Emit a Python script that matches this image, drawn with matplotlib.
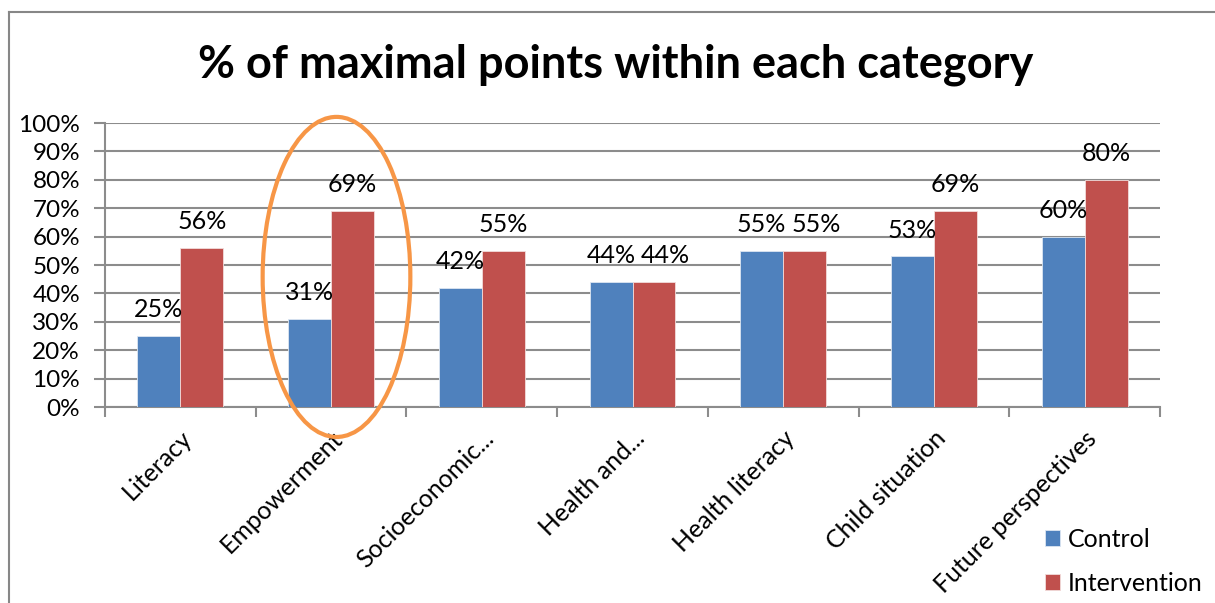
import matplotlib
matplotlib.use("Agg")
from matplotlib import pyplot as plt
from matplotlib.patches import Ellipse
from matplotlib.ticker import PercentFormatter, FixedLocator
import numpy as np

categories = ["Literacy", "Empowerment", "Socioeconomic...", "Health and...",
              "Health literacy", "Child situation", "Future perspectives"]
control = [25, 31, 42, 44, 55, 53, 60]
intervention = [56, 69, 55, 44, 55, 69, 80]
yticks = [0, 10, 20, 30, 40, 50, 60, 70, 80, 90, 100]

plt.rcParams['font.family'] = ['Lato', 'DejaVu Sans']
fs = 18

fig = plt.figure(figsize=(12.15, 6.03), dpi=100)
ax = fig.add_axes([105 / 1215, 1 - 407 / 603, (1160 - 105) / 1215, (407 - 123) / 603])

# outer frame (only left and top visible in the reference)
fig.add_artist(plt.Line2D([9 / 1215, 9 / 1215], [0, 1 - 12 / 603], color="#878787", lw=1.5))
fig.add_artist(plt.Line2D([9 / 1215, 1], [1 - 12 / 603, 1 - 12 / 603], color="#878787", lw=1.5))

x = np.arange(len(categories))
w = 0.285
b1 = ax.bar(x - w / 2, control, w, color="#4F81BD", edgecolor="#DCE6F2", lw=0.6, label="Control", zorder=3)
b2 = ax.bar(x + w / 2, intervention, w, color="#C0504D", edgecolor="#F2DCDB", lw=0.6, label="Intervention", zorder=3)

for bars, vals, other in [(b1, control, intervention), (b2, intervention, control)]:
    for r, v, o in zip(bars, vals, other):
        # nudge the right label when both labels sit at the same height
        dx = 8 if (bars is b2 and abs(v - o) < 5) else 0
        ax.annotate(f"{v}%", (r.get_x() + r.get_width() / 2, v), xytext=(dx, 13.5),
                    textcoords="offset points", ha="center", va="baseline", fontsize=fs, zorder=4)

ax.set_xlim(-0.5, len(categories) - 0.5)
ax.set_ylim(0, 100)
ax.set_yticks(yticks)
ax.yaxis.set_major_formatter(PercentFormatter(decimals=0))
ax.yaxis.grid(True, color="#8C8C8C", lw=1.5, zorder=0)
ax.tick_params(axis="y", length=8, width=1.5, color="#8C8C8C", labelsize=17.5, pad=10)

ax.set_xticks(x)
ax.set_xticklabels(categories, rotation=45, ha="right", rotation_mode="anchor", fontsize=fs)
ax.tick_params(axis="x", length=0, pad=14)
ax.xaxis.set_minor_locator(FixedLocator(np.arange(len(categories) + 1) - 0.5))
ax.tick_params(axis="x", which="minor", length=7, width=1.5, color="#8C8C8C")

for s in ["top", "right"]:
    ax.spines[s].set_visible(False)
for s in ["left", "bottom"]:
    ax.spines[s].set_color("#8C8C8C")
    ax.spines[s].set_linewidth(1.5)

fig.text(0.5 + 8 / 1215, 1 - 78 / 603, "% of maximal points within each category",
         fontsize=32.5, fontweight="bold", ha="center", va="baseline")

# highlight around Empowerment
ax.add_patch(Ellipse((1.036, 45.8), 0.98, 112.7, fill=False, edgecolor="#F79646",
                     lw=3, clip_on=False, zorder=5))

leg = fig.legend(handles=[b1, b2], loc="lower left", bbox_to_anchor=(1022 / 1215, -0.024),
                 frameon=False, fontsize=fs, handlelength=0.6, handleheight=0.6,
                 labelspacing=0.85, handletextpad=0.35)

fig.savefig("out.png", dpi=100)
